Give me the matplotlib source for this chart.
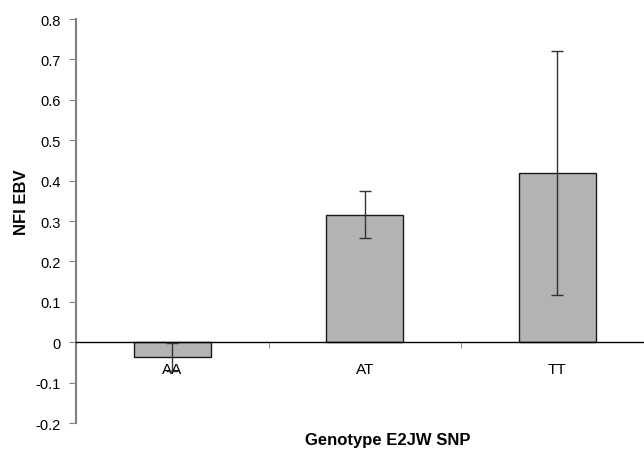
import matplotlib
matplotlib.use('Agg')
import matplotlib.pyplot as plt
import numpy as np

plt.rcParams['font.family'] = ['Liberation Sans', 'DejaVu Sans']

genotypes = ['AA', 'AT', 'TT']
nfi_ebv = [-0.036, 0.316, 0.418]
nfi_err = [0.034, 0.058, 0.302]

fig = plt.figure(figsize=(6.44, 4.56), dpi=100)
ax = fig.add_axes([0.118, 0.070, 0.897, 0.886])

x = np.arange(len(genotypes))
ax.bar(x, nfi_ebv, width=0.4, color='#b3b3b3', edgecolor='#1a1a1a', linewidth=1.0, zorder=2)
ax.errorbar(x, nfi_ebv, yerr=nfi_err, fmt='none', ecolor='#333333', elinewidth=1.0,
            capsize=4, capthick=1.0, zorder=3)

ax.set_xlim(-0.5, 2.5)
ax.set_ylim(-0.2, 0.8)
ax.set_yticks(np.arange(-0.2, 0.81, 0.1))
ax.set_yticklabels(['-0.2', '-0.1', '0', '0.1', '0.2', '0.3', '0.4', '0.5', '0.6', '0.7', '0.8'])

# category axis sits on the zero line
ax.spines['bottom'].set_position(('data', 0))
ax.spines['bottom'].set_color('black')
ax.spines['bottom'].set_linewidth(1.0)
ax.spines['top'].set_visible(False)
ax.spines['right'].set_visible(False)
ax.spines['left'].set_color('#808080')
ax.spines['left'].set_linewidth(1.5)

ax.set_xticks(x)
ax.set_xticklabels(genotypes, fontsize=11)
ax.set_xticks([0.5, 1.5], minor=True)
ax.tick_params(axis='x', which='major', length=0, pad=14)
ax.tick_params(axis='x', which='minor', length=4, color='#808080', direction='out')
ax.tick_params(axis='y', length=5, color='#808080', labelsize=10.5, pad=6)

fig.text(0.033, 0.557, 'NFI EBV', fontsize=12, fontweight='bold', rotation=90, ha='center', va='center')
fig.text(0.602, 0.033, 'Genotype E2JW SNP', fontsize=12, fontweight='bold', ha='center', va='center')

fig.savefig('out.png', dpi=100)
